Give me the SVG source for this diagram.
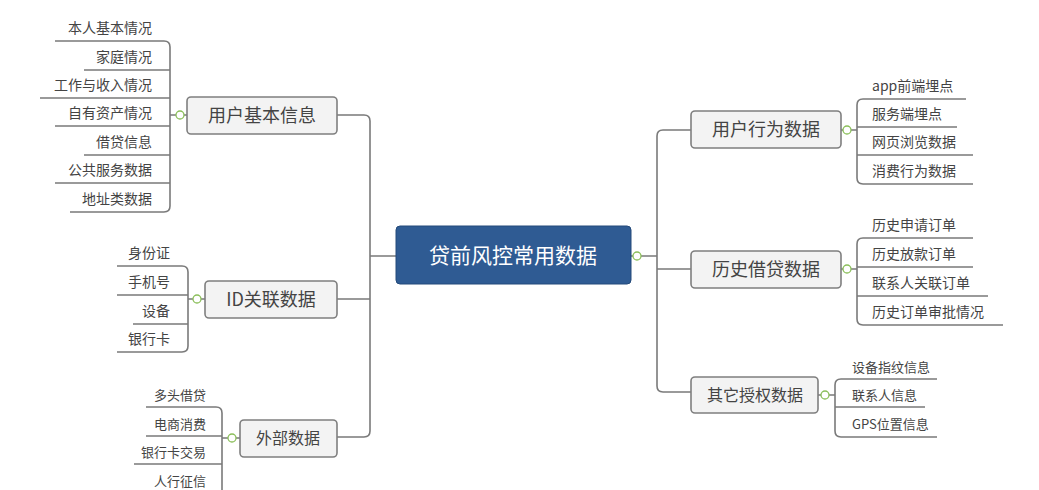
<svg xmlns="http://www.w3.org/2000/svg" width="1039" height="490" viewBox="0 0 1039 490">
<style>
.c{fill:none;stroke:#7a7a7a;stroke-width:1.6}
.b{fill:#f3f3f3;stroke:#7f7f7f;stroke-width:1.6}
.t{font-family:"Noto Sans CJK SC","Liberation Sans",sans-serif;fill:#444}
.l{font-size:14px}
.s{font-size:13px}
.m{font-size:18px;text-anchor:middle}
.r{text-anchor:end}
.k{fill:#fff;stroke:#8bbf5a;stroke-width:1.3}
</style>
<rect width="1039" height="490" fill="#fff"/>
<g id="connectors">
<path class="c" d="M396 256H370M337 115H364Q370 115 370 121V431Q370 437 364 437H337M337 299H370"/>
<path class="c" d="M631 256H657M691 130H663Q657 130 657 136V386Q657 392 663 392H691M657 269H691"/>
<path class="c" d="M187 115H170M55 41H164Q170 41 170 47V206Q170 212 164 212H70M84 70H170M40 98H170M55 126H170M84 155H170M55 183H170"/>
<path class="c" d="M205 299H188M117 266H182Q188 266 188 272V346Q188 352 182 352H117M117 295H188M133 324H188"/>
<path class="c" d="M240 438H222M146 407H216Q222 407 222 413V490M146 436H222M134 464H222"/>
<path class="c" d="M841 130H857M966 99H863Q857 99 857 105V178Q857 184 863 184H973M957 127H857M973 155H857"/>
<path class="c" d="M841 269H857M973 238H863Q857 238 857 244V319Q857 325 863 325H1003M973 267H857M988 296H857"/>
<path class="c" d="M818 395H835M937 379H841Q835 379 835 385V431Q835 437 841 437H937M925 407H835"/>
</g>
<g id="center"><rect x="396" y="226" width="235" height="58" rx="4" fill="#2f5b93" stroke="#244a7a"/><text class="t m" x="513" y="263" style="fill:#fff;font-size:21px">贷前风控常用数据</text><circle class="k" cx="637" cy="256" r="4"/></g>
<g id="n1"><rect class="b" x="187" y="97" width="150" height="37" rx="4"/><text class="t m" x="262" y="122">用户基本信息</text><circle class="k" cx="180" cy="115" r="4"/></g>
<g id="n2"><rect class="b" x="205" y="281" width="132" height="37" rx="4"/><text class="t m" x="271" y="306">ID关联数据</text><circle class="k" cx="197" cy="299" r="4"/></g>
<g id="n3"><rect class="b" x="240" y="420" width="97" height="37" rx="4"/><text class="t m" x="288" y="444" style="font-size:16px">外部数据</text><circle class="k" cx="232" cy="438" r="4"/></g>
<g id="n4"><rect class="b" x="691" y="111" width="150" height="37" rx="4"/><text class="t m" x="766" y="136">用户行为数据</text><circle class="k" cx="847" cy="130" r="4"/></g>
<g id="n5"><rect class="b" x="691" y="251" width="150" height="37" rx="4"/><text class="t m" x="766" y="276">历史借贷数据</text><circle class="k" cx="847" cy="269" r="4"/></g>
<g id="n6"><rect class="b" x="691" y="377" width="127" height="36" rx="4"/><text class="t m" x="755" y="401" style="font-size:16px">其它授权数据</text><circle class="k" cx="825" cy="395" r="4"/></g>
<g id="leaves1" class="t l r">
<text x="152" y="33">本人基本情况</text><text x="152" y="62">家庭情况</text><text x="152" y="90">工作与收入情况</text><text x="152" y="118">自有资产情况</text><text x="152" y="147">借贷信息</text><text x="152" y="175">公共服务数据</text><text x="152" y="204">地址类数据</text>
</g>
<g id="leaves2" class="t l r">
<text x="170" y="258">身份证</text><text x="170" y="287">手机号</text><text x="170" y="316">设备</text><text x="170" y="344">银行卡</text>
</g>
<g id="leaves3" class="t s r">
<text x="206" y="400">多头借贷</text><text x="206" y="429">电商消费</text><text x="206" y="457">银行卡交易</text><text x="206" y="486">人行征信</text>
</g>
<g id="leaves4" class="t l">
<text x="872" y="91">app前端埋点</text><text x="872" y="119">服务端埋点</text><text x="872" y="147">网页浏览数据</text><text x="872" y="176">消费行为数据</text>
</g>
<g id="leaves5" class="t l">
<text x="872" y="230">历史申请订单</text><text x="872" y="259">历史放款订单</text><text x="872" y="288">联系人关联订单</text><text x="872" y="317">历史订单审批情况</text>
</g>
<g id="leaves6" class="t s">
<text x="852" y="372">设备指纹信息</text><text x="852" y="400">联系人信息</text><text x="852" y="429">GPS位置信息</text>
</g>
</svg>
